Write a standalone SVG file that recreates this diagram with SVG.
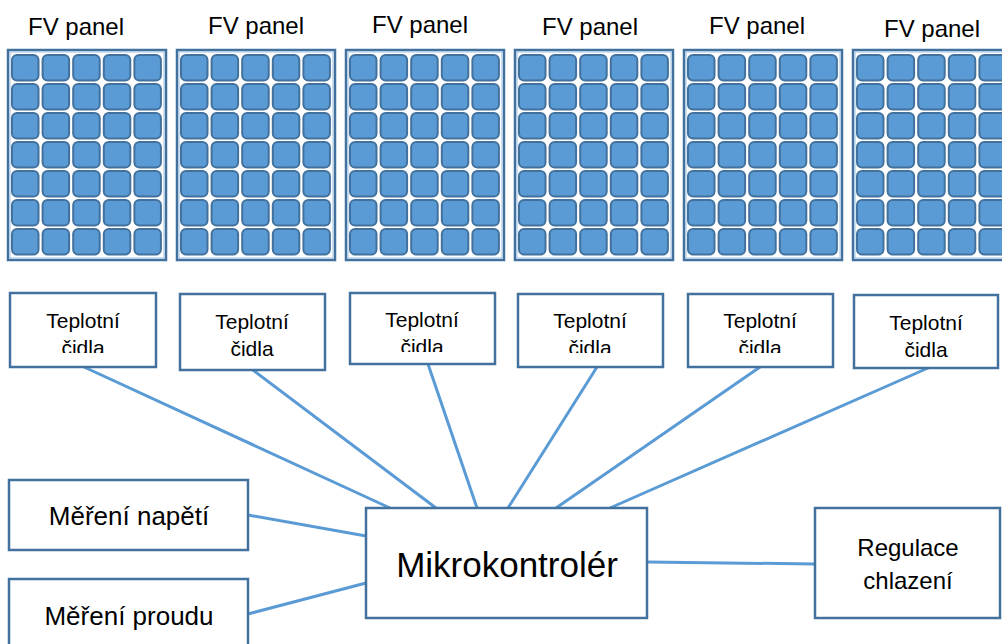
<svg xmlns="http://www.w3.org/2000/svg" xmlns:xlink="http://www.w3.org/1999/xlink" width="1002" height="644" viewBox="0 0 1002 644">
<style>
.lbl{font-family:"Liberation Sans",Arial,sans-serif;fill:#000;text-anchor:middle}
.fv{font-size:24px}
.tc{font-size:21px}
.box{fill:#fff;stroke:#41719C;stroke-width:2.5}
.con line{stroke:#5B9BD5;stroke-width:3;stroke-linecap:round}
.cell{fill:#5B9BD5;stroke:#41719C;stroke-width:2}
.frame{fill:#fff;stroke:#41719C;stroke-width:2.5}
.inner{fill:none;stroke:#9DC3E6;stroke-width:1}
</style>
<defs>
<g id="panel">
<rect class="frame" x="0" y="0" width="158" height="210"/>
<rect class="inner" x="2" y="2" width="154" height="206"/>
<g id="row">
<rect class="cell" x="4" y="5" width="26.5" height="25.5" rx="5"/>
<rect class="cell" x="34.6" y="5" width="26.5" height="25.5" rx="5"/>
<rect class="cell" x="65.2" y="5" width="26.5" height="25.5" rx="5"/>
<rect class="cell" x="95.8" y="5" width="26.5" height="25.5" rx="5"/>
<rect class="cell" x="126.4" y="5" width="26.5" height="25.5" rx="5"/>
</g>
<use xlink:href="#row" y="29"/>
<use xlink:href="#row" y="58"/>
<use xlink:href="#row" y="87"/>
<use xlink:href="#row" y="116"/>
<use xlink:href="#row" y="145"/>
<use xlink:href="#row" y="174"/>
</g>
<clipPath id="c1"><rect x="10" y="293" width="146" height="60"/></clipPath>
<clipPath id="c3"><rect x="350" y="293" width="145" height="59"/></clipPath>
<clipPath id="c4"><rect x="518" y="294" width="145" height="59"/></clipPath>
<clipPath id="c5"><rect x="688" y="294" width="145" height="59"/></clipPath>
</defs>
<rect width="1002" height="644" fill="#fff"/>

<g class="con">
<line x1="84" y1="367" x2="390" y2="508"/>
<line x1="253" y1="370" x2="436" y2="508"/>
<line x1="428" y1="364" x2="477" y2="508"/>
<line x1="597" y1="367" x2="508" y2="508"/>
<line x1="760" y1="367" x2="556" y2="508"/>
<line x1="928" y1="368" x2="610" y2="508"/>
<line x1="248" y1="515" x2="366" y2="536"/>
<line x1="248" y1="614" x2="366" y2="583"/>
<line x1="647" y1="562" x2="815" y2="564"/>
</g>

<g id="panel1"><use xlink:href="#panel" x="8" y="50"/><text class="lbl fv" x="76" y="35">FV panel</text></g>
<g id="panel2"><use xlink:href="#panel" x="177" y="50"/><text class="lbl fv" x="256" y="34">FV panel</text></g>
<g id="panel3"><use xlink:href="#panel" x="346" y="50"/><text class="lbl fv" x="420" y="33">FV panel</text></g>
<g id="panel4"><use xlink:href="#panel" x="515" y="50"/><text class="lbl fv" x="590" y="35">FV panel</text></g>
<g id="panel5"><use xlink:href="#panel" x="684" y="50"/><text class="lbl fv" x="757" y="34">FV panel</text></g>
<g id="panel6"><use xlink:href="#panel" x="853" y="50"/><text class="lbl fv" x="932" y="37">FV panel</text></g>

<g id="sensor1"><rect class="box" x="10" y="293" width="146" height="74"/>
<g clip-path="url(#c1)"><text class="lbl tc" x="83" y="328">Teplotní</text><text class="lbl tc" x="83" y="355">čidla</text></g></g>
<g id="sensor2"><rect class="box" x="180" y="294" width="145" height="76"/>
<text class="lbl tc" x="252" y="329">Teplotní</text><text class="lbl tc" x="252" y="356">čidla</text></g>
<g id="sensor3"><rect class="box" x="350" y="293" width="145" height="71"/>
<g clip-path="url(#c3)"><text class="lbl tc" x="422" y="327">Teplotní</text><text class="lbl tc" x="422" y="354">čidla</text></g></g>
<g id="sensor4"><rect class="box" x="518" y="294" width="145" height="73"/>
<g clip-path="url(#c4)"><text class="lbl tc" x="590" y="328">Teplotní</text><text class="lbl tc" x="590" y="355">čidla</text></g></g>
<g id="sensor5"><rect class="box" x="688" y="294" width="145" height="73"/>
<g clip-path="url(#c5)"><text class="lbl tc" x="760" y="328">Teplotní</text><text class="lbl tc" x="760" y="355">čidla</text></g></g>
<g id="sensor6"><rect class="box" x="854" y="295" width="144" height="73"/>
<text class="lbl tc" x="926" y="330">Teplotní</text><text class="lbl tc" x="926" y="357">čidla</text></g>

<g id="napeti"><rect class="box" x="9" y="480" width="239" height="70"/>
<text class="lbl" style="font-size:26px" x="129" y="525">Měření napětí</text></g>
<g id="proud"><rect class="box" x="9" y="579" width="239" height="70"/>
<text class="lbl" style="font-size:26px" x="129" y="625">Měření proudu</text></g>
<g id="mcu"><rect class="box" x="366" y="508" width="281" height="110"/>
<text class="lbl" style="font-size:35px" x="507" y="577">Mikrokontrolér</text></g>
<g id="regulace"><rect class="box" x="815" y="508" width="185" height="110"/>
<text class="lbl" style="font-size:24px" x="908" y="556">Regulace</text>
<text class="lbl" style="font-size:24px" x="908" y="589">chlazení</text></g>
</svg>
